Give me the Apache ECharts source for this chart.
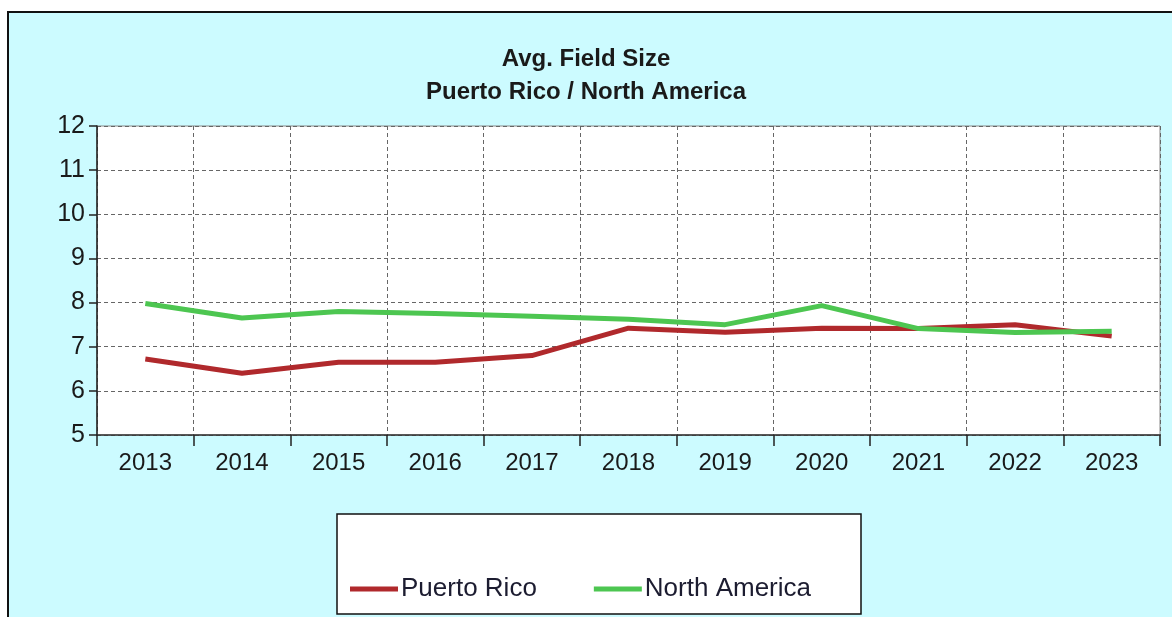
<!DOCTYPE html>
<html>
<head>
<meta charset="utf-8">
<script src="https://cdn.jsdelivr.net/npm/echarts@6/dist/echarts.min.js"></script>
<style>
html,body{margin:0;padding:0;background:#fff;}
#chart{width:1172px;height:617px;}
</style>
</head>
<body>
<div id="chart"></div>
<script>
const years = ['2013','2014','2015','2016','2017','2018','2019','2020','2021','2022','2023'];
const puertoRico = [6.72, 6.4, 6.65, 6.65, 6.8, 7.42, 7.33, 7.42, 7.41, 7.5, 7.24];
const northAmerica = [7.98, 7.65, 7.8, 7.75, 7.69, 7.62, 7.5, 7.93, 7.41, 7.32, 7.35];
const titleLines = ['Avg. Field Size', 'Puerto Rico / North America'];
const seriesNames = ['Puerto Rico', 'North America'];

const chart = echarts.init(document.getElementById('chart'));
const font = 'Liberation Sans, Arial, sans-serif';
chart.setOption({
  backgroundColor: '#ffffff',
  animation: false,
  graphic: [
    {type: 'rect', z: -10, shape: {x: 8, y: 12, width: 1170, height: 610},
     style: {fill: '#ccfbff', stroke: '#111', lineWidth: 2}},
    {type: 'rect', z: -5, shape: {x: 337, y: 514, width: 524, height: 100},
     style: {fill: '#ffffff', stroke: '#111', lineWidth: 1.5}}
  ],
  title: [
    {text: titleLines[0], left: 'center', top: 42, textStyle: {fontFamily: font, fontSize: 24, fontWeight: 'bold', color: '#1a1a1a'}},
    {text: titleLines[1], left: 'center', top: 75, textStyle: {fontFamily: font, fontSize: 24, fontWeight: 'bold', color: '#1a1a1a'}}
  ],
  legend: {
    left: 345, top: 569,
    icon: 'rect', itemWidth: 48, itemHeight: 5, itemGap: 57,
    textStyle: {fontFamily: font, fontSize: 26, color: '#1c1c30', lineHeight: 30, padding: [0, 0, 0, -2]},
    data: seriesNames
  },
  grid: {left: 97, right: 12, top: 126, bottom: 182, show: true, backgroundColor: '#ffffff', borderColor: '#888', borderWidth: 1},
  xAxis: {
    type: 'category', data: years, boundaryGap: true,
    axisLine: {lineStyle: {color: '#333', width: 1.5}},
    axisTick: {show: true, length: 11, lineStyle: {color: '#222', width: 1.5}},
    axisLabel: {fontFamily: font, fontSize: 24, color: '#1a1a1a', margin: 16},
    splitLine: {show: true, lineStyle: {color: '#666', type: [4, 3], width: 1}}
  },
  yAxis: {
    type: 'value', min: 5, max: 12, interval: 1,
    axisLine: {show: true, lineStyle: {color: '#222', width: 1.5}},
    axisTick: {show: true, inside: false, length: 8, lineStyle: {color: '#222', width: 1.5}},
    axisLabel: {fontFamily: font, fontSize: 25, color: '#1a1a1a', margin: 12},
    splitLine: {show: true, lineStyle: {color: '#666', type: [4, 3], width: 1}}
  },
  series: [
    {name: seriesNames[0], type: 'line', data: puertoRico, showSymbol: false, symbol: 'none',
     lineStyle: {color: '#b0292c', width: 5}, itemStyle: {color: '#b0292c'}},
    {name: seriesNames[1], type: 'line', data: northAmerica, showSymbol: false, symbol: 'none',
     lineStyle: {color: '#4dc651', width: 5}, itemStyle: {color: '#4dc651'}}
  ]
});
</script>
</body>
</html>
